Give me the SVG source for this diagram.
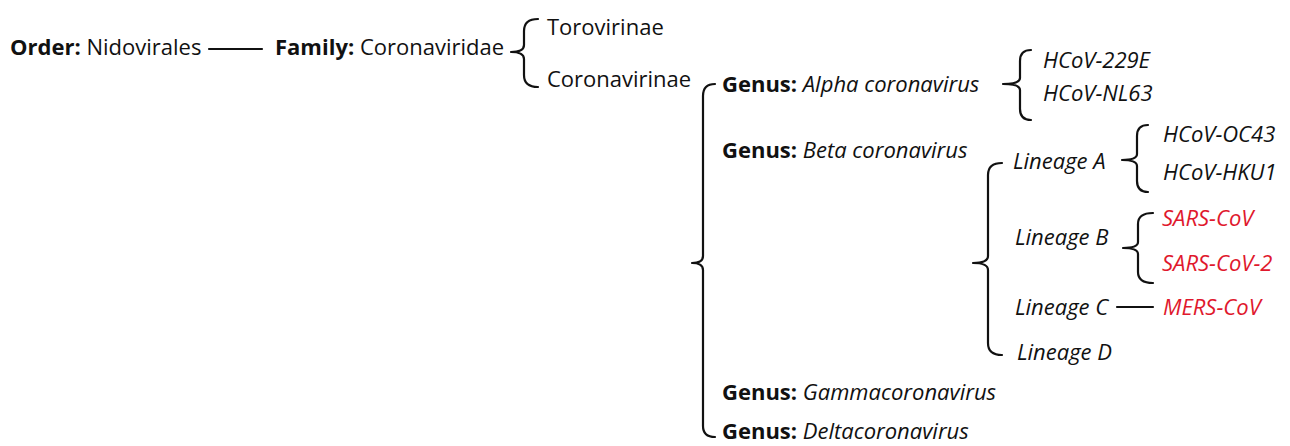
<svg xmlns="http://www.w3.org/2000/svg" width="1290" height="446" viewBox="0 0 1290 446">
<style>
text{font-family:"Open Sans","Noto Sans","Liberation Sans",sans-serif;font-size:22px;fill:#111}
.b{font-weight:bold}
.i{font-style:italic}
.red{fill:#e0182d}
.br{fill:none;stroke:#111;stroke-width:2.2;stroke-linecap:round;stroke-linejoin:round}
</style>
<rect width="1290" height="446" fill="#fff"/>
<g id="connectors" class="br">
<line x1="209" y1="49" x2="262" y2="49"/>
<line x1="1117" y1="307" x2="1153" y2="307"/>
<path d="M538,19 Q524,19 524,31 L524,45 Q524,52 511,52 Q524,52 524,59 L524,75 Q524,87 538,87"/>
<path d="M715,84 Q703,84 703,96 L703,256 Q703,263 692,263 Q703,263 703,270 L703,426 Q703,437 715,437"/>
<path d="M1031,50 Q1020,50 1020,61 L1020,78 Q1020,84 1003,84 Q1020,84 1020,90 L1020,109 Q1020,120 1031,120"/>
<path d="M1002,163 Q988,163 988,175 L988,256 Q988,263 973,263 Q988,263 988,270 L988,343 Q988,355 1002,355"/>
<path d="M1148,125 Q1137,125 1137,136 L1137,154 Q1137,160 1122,160 Q1137,160 1137,166 L1137,181 Q1137,192 1148,192"/>
<path d="M1153,213 Q1138,213 1138,224 L1138,242 Q1138,248 1123,248 Q1138,248 1138,254 L1138,272 Q1138,283 1153,283"/>
</g>
<g id="order"><text x="10" y="55"><tspan class="b">Order:</tspan> Nidovirales</text></g>
<g id="family"><text x="275" y="55"><tspan class="b">Family:</tspan> Coronaviridae</text></g>
<g id="torovirinae"><text x="547" y="35">Torovirinae</text></g>
<g id="coronavirinae"><text x="547" y="87">Coronavirinae</text></g>
<g id="alpha"><text x="722" y="92"><tspan class="b">Genus:</tspan> <tspan class="i">Alpha coronavirus</tspan></text></g>
<g id="hcov229e"><text class="i" x="1043" y="68">HCoV-229E</text></g>
<g id="hcovnl63"><text class="i" x="1043" y="101">HCoV-NL63</text></g>
<g id="beta"><text x="722" y="158"><tspan class="b">Genus:</tspan> <tspan class="i">Beta coronavirus</tspan></text></g>
<g id="lineageA"><text class="i" x="1013" y="169">Lineage A</text></g>
<g id="hcovoc43"><text class="i" x="1163" y="142">HCoV-OC43</text></g>
<g id="hcovhku1"><text class="i" x="1163" y="180">HCoV-HKU1</text></g>
<g id="lineageB"><text class="i" x="1015" y="245">Lineage B</text></g>
<g id="sarscov"><text class="i red" x="1162" y="226">SARS-CoV</text></g>
<g id="sarscov2"><text class="i red" x="1162" y="271">SARS-CoV-2</text></g>
<g id="lineageC"><text class="i" x="1015" y="315">Lineage C</text></g>
<g id="merscov"><text class="i red" x="1163" y="315">MERS-CoV</text></g>
<g id="lineageD"><text class="i" x="1017" y="360">Lineage D</text></g>
<g id="gamma"><text x="722" y="400"><tspan class="b">Genus:</tspan> <tspan class="i">Gammacoronavirus</tspan></text></g>
<g id="delta"><text x="722" y="439"><tspan class="b">Genus:</tspan> <tspan class="i">Deltacoronavirus</tspan></text></g>
</svg>
